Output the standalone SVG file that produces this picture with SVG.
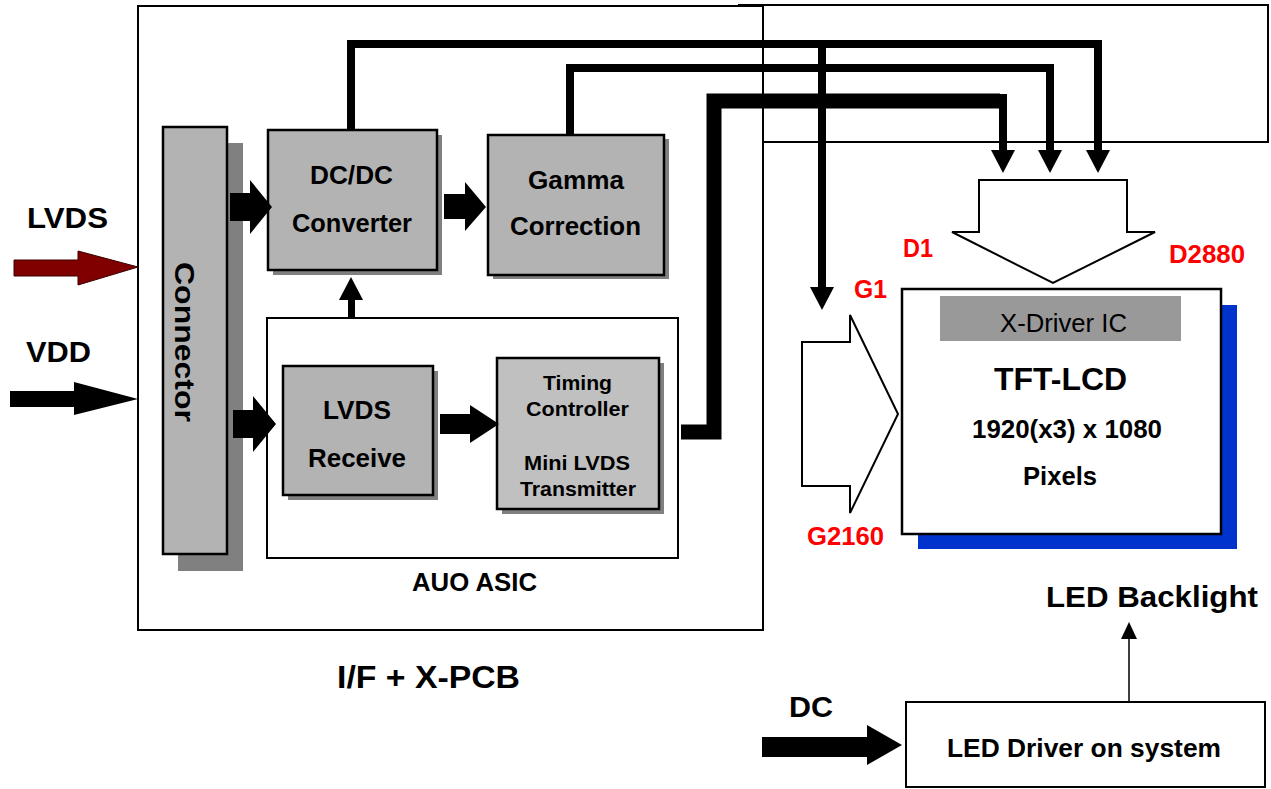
<svg xmlns="http://www.w3.org/2000/svg" width="1271" height="789" viewBox="0 0 1271 789">
<style>
text{font-family:"Liberation Sans",Arial,sans-serif;fill:#000}
.b{font-weight:bold}
.red{fill:#ff0000;font-weight:bold}
.frame{fill:none;stroke:#000;stroke-width:2}
.wbox{fill:#fff;stroke:#000;stroke-width:2}
.gbox{fill:#b3b3b3;stroke:#000;stroke-width:2.5}
.lbox{fill:#c0c0c0;stroke:#000;stroke-width:2.5}
.shadow{fill:#808080}
.bus{fill:none;stroke:#000;stroke-width:8;stroke-linejoin:miter}
.bus3{fill:none;stroke:#000;stroke-width:15;stroke-linejoin:miter}
.head{fill:#000}
.hollow{fill:#fff;stroke:#000;stroke-width:2}
</style>

<g id="pcb">
  <rect class="frame" x="138" y="6" width="625" height="624"/>
  <text class="b" x="337" y="688" font-size="32" textLength="183" lengthAdjust="spacingAndGlyphs">I/F + X-PCB</text>
</g>
<g id="top-frame">
  <path class="frame" d="M738,5 H1268 V142 H763"/>
</g>

<g id="lvds-in">
  <polygon points="14,260 78,260 78,251 138,267 78,285 78,276 14,276" fill="#800000" stroke="#3a0000" stroke-width="1"/>
  <text class="b" x="27" y="228" font-size="29" textLength="81" lengthAdjust="spacingAndGlyphs">LVDS</text>
</g>
<g id="vdd-in">
  <polygon points="10,391 74,391 74,382 138,399 74,415 74,407 10,407" fill="#000"/>
  <text class="b" x="26" y="362" font-size="29" textLength="65" lengthAdjust="spacingAndGlyphs">VDD</text>
</g>

<g id="connector">
  <rect class="shadow" x="178" y="143" width="65" height="428"/>
  <rect class="gbox" x="163" y="127" width="64" height="427"/>
  <text class="b" transform="translate(175,262) rotate(90)" font-size="28" textLength="160" lengthAdjust="spacingAndGlyphs">Connector</text>
</g>

<g id="dcdc">
  <rect class="shadow" x="273" y="135" width="169" height="140"/>
  <rect class="gbox" x="268" y="130" width="169" height="140"/>
  <text class="b" x="310" y="184" font-size="26" textLength="83" lengthAdjust="spacingAndGlyphs">DC/DC</text>
  <text class="b" x="292" y="232" font-size="26" textLength="120" lengthAdjust="spacingAndGlyphs">Converter</text>
</g>

<g id="gamma">
  <rect class="shadow" x="493" y="139" width="176" height="140"/>
  <rect class="gbox" x="488" y="135" width="176" height="140"/>
  <text class="b" x="528" y="189" font-size="26" textLength="96" lengthAdjust="spacingAndGlyphs">Gamma</text>
  <text class="b" x="510" y="235" font-size="26" textLength="131" lengthAdjust="spacingAndGlyphs">Correction</text>
</g>

<g id="asic">
  <rect class="wbox" x="267" y="318" width="411" height="240"/>
  <text class="b" x="412" y="591" font-size="25" textLength="125" lengthAdjust="spacingAndGlyphs">AUO ASIC</text>
</g>

<g id="lvds-receive">
  <rect class="shadow" x="288" y="371" width="150" height="129"/>
  <rect class="gbox" x="283" y="366" width="150" height="129"/>
  <text class="b" x="323" y="419" font-size="26" textLength="68" lengthAdjust="spacingAndGlyphs">LVDS</text>
  <text class="b" x="308" y="467" font-size="26" textLength="98" lengthAdjust="spacingAndGlyphs">Receive</text>
</g>

<g id="timing">
  <rect class="shadow" x="502" y="363" width="162" height="151"/>
  <rect class="lbox" x="497" y="358" width="162" height="151"/>
  <text class="b" x="543" y="390" font-size="21" textLength="69" lengthAdjust="spacingAndGlyphs">Timing</text>
  <text class="b" x="526" y="416" font-size="21" textLength="103" lengthAdjust="spacingAndGlyphs">Controller</text>
  <text class="b" x="524" y="470" font-size="21" textLength="106" lengthAdjust="spacingAndGlyphs">Mini LVDS</text>
  <text class="b" x="520" y="496" font-size="21" textLength="116" lengthAdjust="spacingAndGlyphs">Transmitter</text>
</g>

<g id="gate-arrow">
  <polygon class="hollow" points="802,342 850,342 850,315 898,414 850,513 850,486 802,486"/>
  <text class="red" x="854" y="298" font-size="25" textLength="33" lengthAdjust="spacingAndGlyphs">G1</text>
  <text class="red" x="807" y="545" font-size="25" textLength="77" lengthAdjust="spacingAndGlyphs">G2160</text>
</g>

<g id="data-arrow">
  <polygon class="hollow" points="979,180 1127,180 1127,232 1155,232 1053,283 952,232 979,232"/>
  <text class="red" x="903" y="257" font-size="25" textLength="30" lengthAdjust="spacingAndGlyphs">D1</text>
  <text class="red" x="1169" y="263" font-size="25" textLength="76" lengthAdjust="spacingAndGlyphs">D2880</text>
</g>

<g id="tft-lcd">
  <rect x="918" y="305" width="319" height="244" fill="#0033cc"/>
  <rect x="902" y="289" width="319" height="245" fill="#fff" stroke="#000" stroke-width="2.5"/>
  <rect x="940" y="296" width="241" height="45" fill="#999"/>
  <text x="1000" y="332" font-size="25" textLength="127" lengthAdjust="spacingAndGlyphs" fill="#111">X-Driver IC</text>
  <text class="b" x="994" y="390" font-size="31" textLength="133" lengthAdjust="spacingAndGlyphs">TFT-LCD</text>
  <text class="b" x="972" y="438" font-size="25" textLength="190" lengthAdjust="spacingAndGlyphs">1920(x3) x 1080</text>
  <text class="b" x="1023" y="485" font-size="25" textLength="74" lengthAdjust="spacingAndGlyphs">Pixels</text>
</g>

<g id="led-driver">
  <rect class="wbox" x="906" y="702" width="359" height="85"/>
  <text class="b" x="947" y="757" font-size="26" textLength="274" lengthAdjust="spacingAndGlyphs">LED Driver on system</text>
</g>
<g id="led-backlight">
  <text class="b" x="1046" y="607" font-size="30" textLength="212" lengthAdjust="spacingAndGlyphs">LED Backlight</text>
</g>
<g id="dc-in">
  <polygon points="762,737 867,737 867,725 902,745 867,765 867,757 762,757" fill="#000"/>
  <text class="b" x="789" y="717" font-size="29" textLength="44" lengthAdjust="spacingAndGlyphs">DC</text>
</g>

<g id="connectors">
  <polygon class="head" points="230,193 250,193 250,180 272,207 250,234 250,221 230,221"/>
  <polygon class="head" points="233,410 253,410 253,396 276,424 253,452 253,438 233,438"/>
  <polygon class="head" points="444,194 465,194 465,182 486,207 465,231 465,219 444,219"/>
  <polygon class="head" points="440,414 470,414 470,405 499,424 470,443 470,434 440,434"/>
  <rect x="348" y="298" width="7" height="20" fill="#000"/>
  <polygon class="head" points="339,300 363,300 351,277"/>
  <path class="bus" d="M351,130 V44 H1098 V152"/>
  <polygon class="head" points="1086,150 1110,150 1098,173"/>
  <path class="bus" d="M822,44 V289"/>
  <polygon class="head" points="810,287 834,287 822,310"/>
  <path class="bus" d="M570,135 V68 H1050 V152"/>
  <polygon class="head" points="1038,150 1062,150 1050,173"/>
  <path class="bus3" d="M681,432 H714 V101 H1000"/>
  <path class="bus" d="M1003,94 V152"/>
  <polygon class="head" points="991,150 1015,150 1003,173"/>
  <line x1="1129" y1="702" x2="1129" y2="636" stroke="#000" stroke-width="1.5"/>
  <polygon class="head" points="1121,639 1137,639 1129,622"/>
</g>
</svg>
